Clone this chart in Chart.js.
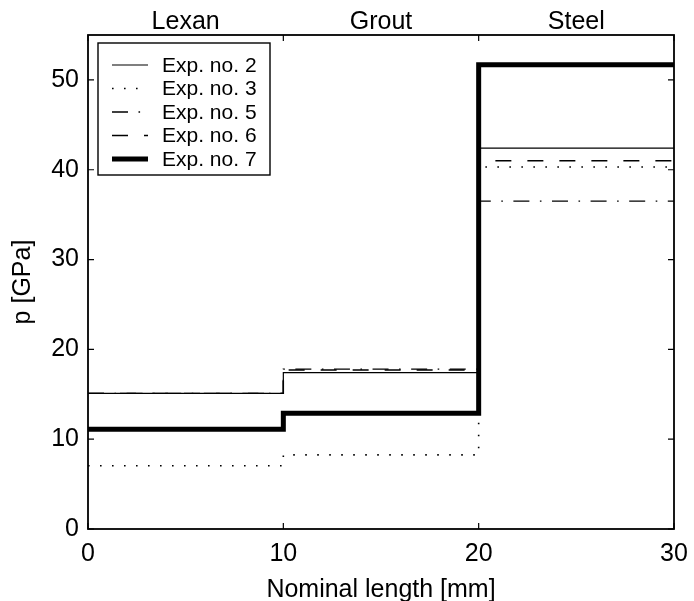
<!DOCTYPE html>
<html>
<head>
<meta charset="utf-8">
<script src="https://cdn.jsdelivr.net/npm/chart.js@4.4.1/dist/chart.umd.min.js"></script>
<style>
  html, body { margin: 0; padding: 0; background: #fff; }
  #wrap { position: relative; width: 694px; height: 601px; }
</style>
</head>
<body>
<div id="wrap"><canvas id="c"></canvas></div>
<script>
// ---- data ----
const materials = ['Lexan', 'Grout', 'Steel'];
const boundaries = [0, 10, 20, 30];          // nominal length [mm]
const xTicks = [0, 10, 20, 30];
const yTicks = [0, 10, 20, 30, 40, 50];
const seriesNames = ['Exp. no. 2', 'Exp. no. 3', 'Exp. no. 5', 'Exp. no. 6', 'Exp. no. 7'];
const exp2 = [15.1, 17.4, 42.4];
const exp3 = [7.05, 8.25, 40.3];
const exp5 = [15.1, 17.8, 36.5];
const exp6 = [15.1, 17.7, 41.0];
const exp7 = [11.1, 12.9, 51.7];

// ---- styles ----
const FONT = '"Liberation Sans", Arial, Helvetica, sans-serif';
const styles = [
  { width: 1.2, dash: [] },
  { width: 1.6, dash: [1.6, 10.4] },
  { width: 1.4, dash: [16, 10.5, 1.6, 10.5] },
  { width: 1.4, dash: [16, 16] },
  { width: 5, dash: [] }
];
const seriesValues = [exp2, exp3, exp5, exp6, exp7];

function stepPoints(vals) {
  const pts = vals.map((v, i) => ({ x: boundaries[i], y: v }));
  pts.push({ x: boundaries[boundaries.length - 1], y: vals[vals.length - 1] });
  return pts;
}

const datasets = seriesValues.map((vals, i) => ({
  label: seriesNames[i],
  data: stepPoints(vals),
  stepped: 'before',
  borderColor: '#000',
  borderWidth: styles[i].width,
  borderDash: styles[i].dash,
  borderCapStyle: 'butt',
  borderJoinStyle: 'miter',
  pointRadius: 0,
  fill: false,
  tension: 0
}));

Chart.defaults.font.family = FONT;
Chart.defaults.color = '#000';

const framePlugin = {
  id: 'frame',
  afterDatasetsDraw(chart) {
    const { ctx, chartArea: a, scales } = chart;
    const xs = scales.x, ys = scales.y;
    ctx.save();
    ctx.strokeStyle = '#000';
    // inward ticks
    ctx.lineWidth = 1.2;
    const TL = 6;
    ctx.beginPath();
    xTicks.forEach(v => {
      const px = xs.getPixelForValue(v);
      ctx.moveTo(px, a.bottom); ctx.lineTo(px, a.bottom - TL);
      ctx.moveTo(px, a.top); ctx.lineTo(px, a.top + TL);
    });
    yTicks.forEach(v => {
      const py = ys.getPixelForValue(v);
      ctx.moveTo(a.left, py); ctx.lineTo(a.left + TL, py);
      ctx.moveTo(a.right, py); ctx.lineTo(a.right - TL, py);
    });
    ctx.stroke();
    // frame
    ctx.lineWidth = 1.8;
    ctx.strokeRect(a.left, a.top, a.right - a.left, a.bottom - a.top);

    // legend box inside plot
    const bx = a.left + 10, by = a.top + 8, bw = 172, bh = 132;
    ctx.fillStyle = '#fff';
    ctx.fillRect(bx, by, bw, bh);
    ctx.lineWidth = 1.4;
    ctx.strokeRect(bx, by, bw, bh);
    ctx.font = '21px ' + FONT;
    ctx.textBaseline = 'middle';
    ctx.textAlign = 'left';
    ctx.fillStyle = '#000';
    seriesNames.forEach((name, i) => {
      const y = by + 22 + i * 23.5;
      ctx.beginPath();
      ctx.lineWidth = styles[i].width;
      ctx.setLineDash(styles[i].dash);
      ctx.lineCap = 'butt';
      ctx.moveTo(bx + 14, y);
      ctx.lineTo(bx + 50, y);
      ctx.stroke();
      ctx.setLineDash([]);
      ctx.fillText(name, bx + 64, y + 1);
    });
    ctx.restore();
  }
};

new Chart(document.getElementById('c'), {
  type: 'line',
  data: { datasets },
  options: {
    responsive: true,
    maintainAspectRatio: false,
    animation: false,
    layout: { padding: { left: 0, right: 20, top: 0, bottom: 0 } },
    plugins: { legend: { display: false }, tooltip: { enabled: false } },
    scales: {
      x: {
        type: 'linear', position: 'bottom', min: 0, max: 30,
        afterBuildTicks: s => { s.ticks = xTicks.map(v => ({ value: v })); },
        afterFit: s => { s.height = 72; s.paddingLeft = 0; s.paddingRight = 0; },
        grid: { display: false, drawTicks: false },
        border: { display: false },
        ticks: { font: { size: 25 }, padding: 10, maxRotation: 0, autoSkip: false },
        title: { display: true, text: 'Nominal length [mm]', font: { size: 25 }, padding: { top: 0, bottom: -4 } }
      },
      x2: {
        type: 'linear', position: 'top', min: 0, max: 30,
        afterBuildTicks: s => { s.ticks = materials.map((m, i) => ({ value: (boundaries[i] + boundaries[i + 1]) / 2 })); },
        afterFit: s => { s.height = 35; s.paddingLeft = 0; s.paddingRight = 0; },
        grid: { display: false, drawTicks: false },
        border: { display: false },
        ticks: { font: { size: 25 }, padding: -2, maxRotation: 0, autoSkip: false,
                 callback: (v, i) => materials[i] }
      },
      y: {
        type: 'linear', min: 0, max: 55,
        afterBuildTicks: s => { s.ticks = yTicks.map(v => ({ value: v })); },
        afterFit: s => { s.width = 88; s.paddingTop = 0; s.paddingBottom = 0; },
        grid: { display: false, drawTicks: false },
        border: { display: false },
        ticks: { font: { size: 25 }, padding: 9, autoSkip: false },
        title: { display: true, text: 'p [GPa]', font: { size: 25 }, padding: { top: 8, bottom: 0 } }
      }
    }
  },
  plugins: [framePlugin]
});
</script>
</body>
</html>
